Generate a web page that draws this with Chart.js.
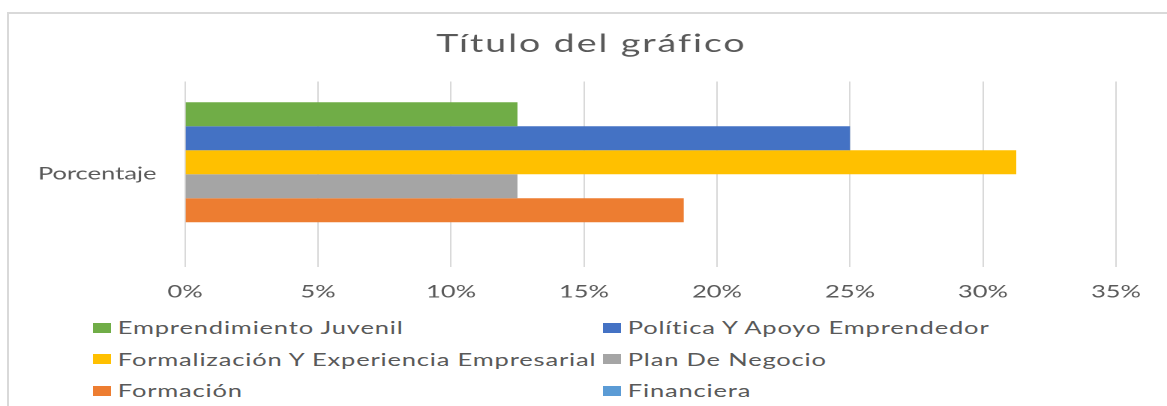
<!DOCTYPE html>
<html>
<head>
<meta charset="utf-8">
<script src="https://cdn.jsdelivr.net/npm/chart.js@4.4.1/dist/chart.umd.min.js"></script>
<style>
  body {
    margin: 0;
    background: #fff;
    width: 1167px;
    height: 406px;
    overflow: hidden;
    position: relative;
    font-family: Lato, sans-serif;
  }
  #frame {
    position: absolute;
    left: 7px;
    top: 12px;
    width: 1170px;
    height: 400px;
    border-left: 2px solid #d9d9d9;
    border-top: 2px solid #d9d9d9;
  }
  #chart {
    position: absolute;
    left: 0;
    top: 0;
  }
  /* the reference is stretched sideways, so the legend is too */
  #legend {
    position: absolute;
    left: 0;
    top: 310px;
    width: 778px;
    padding-top: 2px;
    transform: scaleX(1.5);
    transform-origin: 0 0;
    display: grid;
    grid-template-columns: 340px 300px;
    grid-auto-rows: 31.5px;
    padding-left: 62px;
    box-sizing: border-box;
  }
  .item {
    display: flex;
    align-items: center;
    font-size: 17px;
    letter-spacing: 0.55px;
    color: #595959;
    white-space: nowrap;
  }
  .box {
    width: 12px;
    height: 10px;
    margin-right: 4.5px;
  }
</style>
</head>
<body>
<div id="frame"></div>
<canvas id="chart" width="778" height="310" style="width:1167px;height:310px"></canvas>
<div id="legend"></div>
<script>
const categories = ["Porcentaje"];
const seriesNames = [
  "Emprendimiento Juvenil",
  "Política Y Apoyo Emprendedor",
  "Formalización Y Experiencia Empresarial",
  "Plan De Negocio",
  "Formación",
  "Financiera",
];
const seriesValues = [12.5, 25, 31.25, 12.5, 18.75, 0];
const seriesColors = ["#70AD47", "#4472C4", "#FFC000", "#A5A5A5", "#ED7D31", "#5B9BD5"];
const tickLabels = ["0%", "5%", "10%", "15%", "20%", "25%", "30%", "35%"];

const STRETCH = 1.5;
const textColor = "#595959";
const gridColor = "#d9d9d9";

const datasets = seriesNames.map((name, i) => ({
  label: name,
  data: [seriesValues[i]],
  backgroundColor: seriesColors[i],
  borderWidth: 0,
  categoryPercentage: 0.776,
  barPercentage: 1,
}));

// title sits a bit right of the middle and is loosely spaced in the original
const titleTweak = {
  id: "titleTweak",
  afterLayout(chart) {
    const t = chart.titleBlock;
    t.left += 22.3;
    t.right += 22.3;
    if (!t._spaced) {
      const draw = t.draw.bind(t);
      t.draw = (area) => {
        const c = chart.ctx;
        c.save();
        c.letterSpacing = "1.3px";
        draw(area);
        c.restore();
      };
      t._spaced = true;
    }
  },
};

const ctx = document.getElementById("chart").getContext("2d");
new Chart(ctx, {
  type: "bar",
  data: { labels: categories, datasets: datasets },
  plugins: [titleTweak],
  options: {
    indexAxis: "y",
    responsive: false,
    animation: false,
    devicePixelRatio: 2,
    layout: { padding: { left: 0, right: 34, top: 0, bottom: 0 } },
    plugins: {
      legend: { display: false },
      tooltip: { enabled: false },
      title: {
        display: true,
        text: "Título del gráfico",
        color: textColor,
        font: { family: "Lato", size: 25, weight: "normal" },
        padding: { top: 29, bottom: 22.5 },
      },
    },
    scales: {
      x: {
        min: 0,
        max: 35,
        grid: { color: gridColor, lineWidth: 1, drawTicks: false },
        border: { display: false },
        ticks: {
          stepSize: 5,
          padding: 15,
          color: textColor,
          font: { family: "Lato", size: 17 },
          callback: (v, i) => tickLabels[i],
        },
        afterFit: (scale) => {
          scale.height = 43;
        },
      },
      y: {
        grid: { display: false, drawTicks: false },
        border: { display: false },
        ticks: {
          padding: 19,
          color: textColor,
          font: { family: "Lato", size: 17 },
        },
        afterFit: (scale) => {
          scale.width = 185 / STRETCH;
        },
      },
    },
  },
});

// legend in two columns, like the spreadsheet one
const legendEl = document.getElementById("legend");
seriesNames.forEach((name, i) => {
  const item = document.createElement("div");
  item.className = "item";
  const box = document.createElement("span");
  box.className = "box";
  box.style.background = seriesColors[i];
  const label = document.createElement("span");
  label.textContent = name;
  item.appendChild(box);
  item.appendChild(label);
  legendEl.appendChild(item);
});
</script>
</body>
</html>
